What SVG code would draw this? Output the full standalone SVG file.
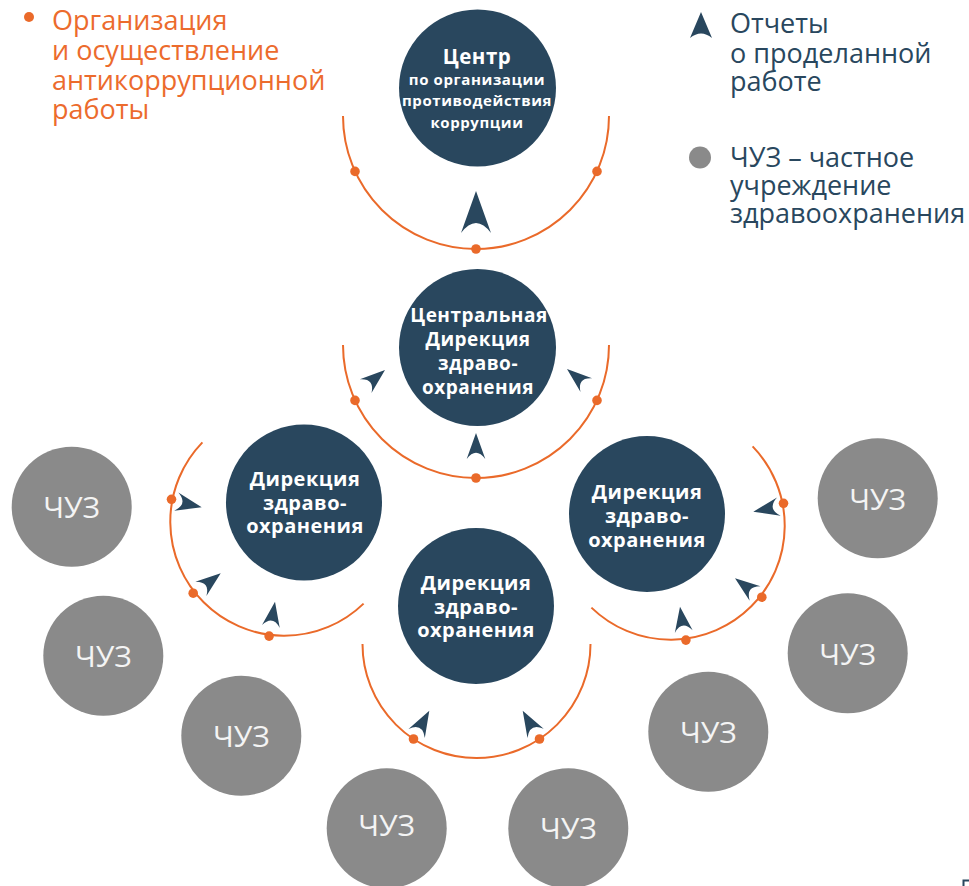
<svg xmlns="http://www.w3.org/2000/svg" width="969" height="886" viewBox="0 0 969 886">
<style>
.bg{fill:#ffffff}
.node{fill:#29475e}
.chuz{fill:#8a8a8a}
.arc{fill:none;stroke:#ea6a2a;stroke-width:2}
.dot{fill:#ea6a2a}
.arr{fill:#29475e}
.nt{font-family:"Open Sans","Noto Sans",sans-serif;font-weight:700;fill:#ffffff;text-anchor:middle;letter-spacing:0.5px}
.ct{font-family:"Open Sans","Noto Sans",sans-serif;font-size:30px;fill:#f4f4f4;text-anchor:middle}
.lego{font-family:"Open Sans","Noto Sans",sans-serif;font-size:27px;fill:#ec6b2d}
.legb{font-family:"Open Sans","Noto Sans",sans-serif;font-size:27px;fill:#29475e}
</style>
<defs>
<path id="ah" d="M0,0 L15,42 Q0,22 -15,42 Z"/>
</defs>
<rect class="bg" width="969" height="886"/>

<g id="legend">
<circle class="dot" cx="29" cy="17" r="5"/>
<text class="lego"><tspan x="52" y="30">Организация</tspan><tspan x="52" y="60">и осуществление</tspan><tspan x="52" y="90">антикоррупционной</tspan><tspan x="52" y="119">работы</tspan></text>
<path class="arr" d="M701,12 L712,38 Q701,29 690,38 Z"/>
<text class="legb"><tspan x="730" y="33">Отчеты</tspan><tspan x="730" y="63">о проделанной</tspan><tspan x="730" y="91">работе</tspan></text>
<circle class="chuz" cx="700" cy="157.5" r="11"/>
<text class="legb"><tspan x="730" y="167">ЧУЗ – частное</tspan><tspan x="730" y="195">учреждение</tspan><tspan x="730" y="223">здравоохранения</tspan></text>
</g>

<g id="connectors">
<path class="arc" d="M343,116 A133,133 0 0 0 609,116"/>
<circle class="dot" cx="355" cy="171.4" r="4.8"/>
<circle class="dot" cx="597" cy="171.4" r="4.8"/>
<circle class="dot" cx="476" cy="249" r="4.8"/>
<use href="#ah" class="arr" transform="translate(476,191)"/>

<path class="arc" d="M343,345 A133,133 0 0 0 609,345"/>
<circle class="dot" cx="355" cy="400.4" r="4.8"/>
<circle class="dot" cx="597" cy="400.4" r="4.8"/>
<circle class="dot" cx="476" cy="478" r="4.8"/>
<use href="#ah" class="arr" transform="translate(476,433) scale(0.62)"/>
<use href="#ah" class="arr" transform="translate(385,370) rotate(50) scale(0.6)"/>
<use href="#ah" class="arr" transform="translate(567,369) rotate(-50) scale(0.6)"/>

<path class="arc" d="M202.4,442.4 A114,114 0 0 0 363.6,603.6"/>
<circle class="dot" cx="171.5" cy="499.3" r="4.8"/>
<circle class="dot" cx="193.2" cy="593.2" r="4.8"/>
<circle class="dot" cx="269.1" cy="636.1" r="4.8"/>
<use href="#ah" class="arr" transform="translate(201.7,507.3) rotate(102.7) scale(0.62)"/>
<use href="#ah" class="arr" transform="translate(220.7,573.3) rotate(52) scale(0.6)"/>
<use href="#ah" class="arr" transform="translate(275,601.7) rotate(9.4) scale(0.6)"/>

<path class="arc" d="M752.6,446.4 A114,114 0 0 1 591.4,607.6"/>
<circle class="dot" cx="783.5" cy="503.3" r="4.8"/>
<circle class="dot" cx="761.8" cy="597.2" r="4.8"/>
<circle class="dot" cx="685.9" cy="640.1" r="4.8"/>
<use href="#ah" class="arr" transform="translate(753.3,511.7) rotate(-101.3) scale(0.62)"/>
<use href="#ah" class="arr" transform="translate(735,578.3) rotate(-52.8) scale(0.6)"/>
<use href="#ah" class="arr" transform="translate(680,606.7) rotate(-8.5) scale(0.6)"/>

<path class="arc" d="M362.5,644 A114,114 0 0 0 590.5,644"/>
<circle class="dot" cx="413.5" cy="739" r="4.8"/>
<circle class="dot" cx="539.5" cy="739" r="4.8"/>
<use href="#ah" class="arr" transform="translate(429.3,710.7) rotate(29) scale(0.62)"/>
<use href="#ah" class="arr" transform="translate(522.7,710.7) rotate(-29.6) scale(0.62)"/>
</g>

<g id="center">
<circle class="node" cx="477.5" cy="88" r="78.5"/>
<text class="nt" x="477" y="64" font-size="20.5">Центр</text>
<text class="nt" font-size="15" style="letter-spacing:0.6px"><tspan x="477" y="85">по организации</tspan><tspan x="477" y="106">противодействия</tspan><tspan x="477" y="128">коррупции</tspan></text>
</g>

<g id="central-directorate">
<circle class="node" cx="477.5" cy="347.5" r="78.5"/>
<text class="nt" font-size="19"><tspan x="479" y="322">Центральная</tspan><tspan x="478" y="346">Дирекция</tspan><tspan x="478" y="370">здраво-</tspan><tspan x="478" y="394">охранения</tspan></text>
</g>

<g id="directorate-left">
<circle class="node" cx="304" cy="502.5" r="78"/>
<text class="nt" font-size="20"><tspan x="305" y="486">Дирекция</tspan><tspan x="305" y="510">здраво-</tspan><tspan x="305" y="533">охранения</tspan></text>
</g>

<g id="directorate-right">
<circle class="node" cx="647" cy="514" r="78"/>
<text class="nt" font-size="20"><tspan x="647" y="499">Дирекция</tspan><tspan x="647" y="523">здраво-</tspan><tspan x="647" y="546.5">охранения</tspan></text>
</g>

<g id="directorate-bottom">
<circle class="node" cx="476" cy="606" r="78"/>
<text class="nt" font-size="20"><tspan x="476" y="590">Дирекция</tspan><tspan x="476" y="614">здраво-</tspan><tspan x="476" y="637">охранения</tspan></text>
</g>

<g id="chuz-1"><circle class="chuz" cx="71.7" cy="506.7" r="60"/><text class="ct" x="71.7" y="518">ЧУЗ</text></g>
<g id="chuz-2"><circle class="chuz" cx="103.3" cy="655.7" r="60"/><text class="ct" x="103.3" y="667">ЧУЗ</text></g>
<g id="chuz-3"><circle class="chuz" cx="241.3" cy="735.7" r="60"/><text class="ct" x="241.3" y="747">ЧУЗ</text></g>
<g id="chuz-4"><circle class="chuz" cx="386.7" cy="828.3" r="60"/><text class="ct" x="386.7" y="836">ЧУЗ</text></g>
<g id="chuz-5"><circle class="chuz" cx="568.3" cy="828.3" r="60"/><text class="ct" x="568.3" y="839">ЧУЗ</text></g>
<g id="chuz-6"><circle class="chuz" cx="708.3" cy="731.7" r="60"/><text class="ct" x="708.3" y="743">ЧУЗ</text></g>
<g id="chuz-7"><circle class="chuz" cx="847.7" cy="653.3" r="60"/><text class="ct" x="847.7" y="665">ЧУЗ</text></g>
<g id="chuz-8"><circle class="chuz" cx="877.7" cy="498.3" r="60"/><text class="ct" x="877.7" y="510">ЧУЗ</text></g>

<path d="M963.5,886 V880.5 H969" fill="none" stroke="#29475e" stroke-width="2"/>
</svg>
